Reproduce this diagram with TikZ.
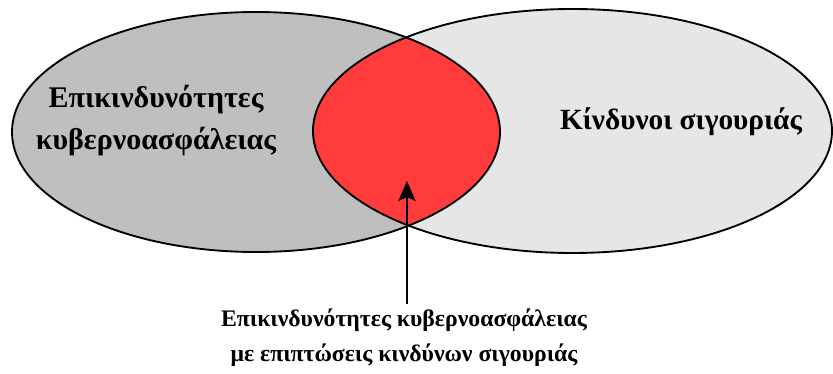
\documentclass[tikz,border=0pt]{standalone}
\usepackage{fontspec}
\setmainfont{Liberation Serif}
\usetikzlibrary{arrows.meta}
\definecolor{cybergray}{RGB}{191,191,191}
\definecolor{safetygray}{RGB}{230,230,230}
\definecolor{overlapred}{RGB}{255,59,59}

\begin{document}
\begin{tikzpicture}[x=0.75pt, y=-0.75pt, line width=1.4pt]
    \useasboundingbox (0,0) rectangle (833,374);

    \fill[cybergray] (256,132) ellipse (244 and 120);
    \fill[safetygray] (572.5,131) ellipse (259.5 and 122);
    \begin{scope}
        \clip (256,132) ellipse (244 and 120);
        \fill[overlapred] (572.5,131) ellipse (259.5 and 122);
    \end{scope}
    \draw (256,132) ellipse (244 and 120);
    \draw (572.5,131) ellipse (259.5 and 122);

    \node (cyber) at (156,121) [align=center, font=\fontsize{22.5}{31.5}\selectfont\bfseries] {Επικινδυνότητες\\κυβερνοασφάλειας};
    \node (safety) at (681,122) [font=\fontsize{22}{26}\selectfont\bfseries] {Κίνδυνοι σιγουριάς};
    \node (both) at (404,338) [align=center, font=\fontsize{17.8}{26}\selectfont\bfseries] {Επικινδυνότητες κυβερνοασφάλειας\\με επιπτώσεις κινδύνων σιγουριάς};

    \coordinate (tip) at (407,181);
    \draw[-{Stealth[length=15pt, width=13pt, inset=3pt]}] (tip |- both.north) -- (tip);
\end{tikzpicture}
\end{document}
